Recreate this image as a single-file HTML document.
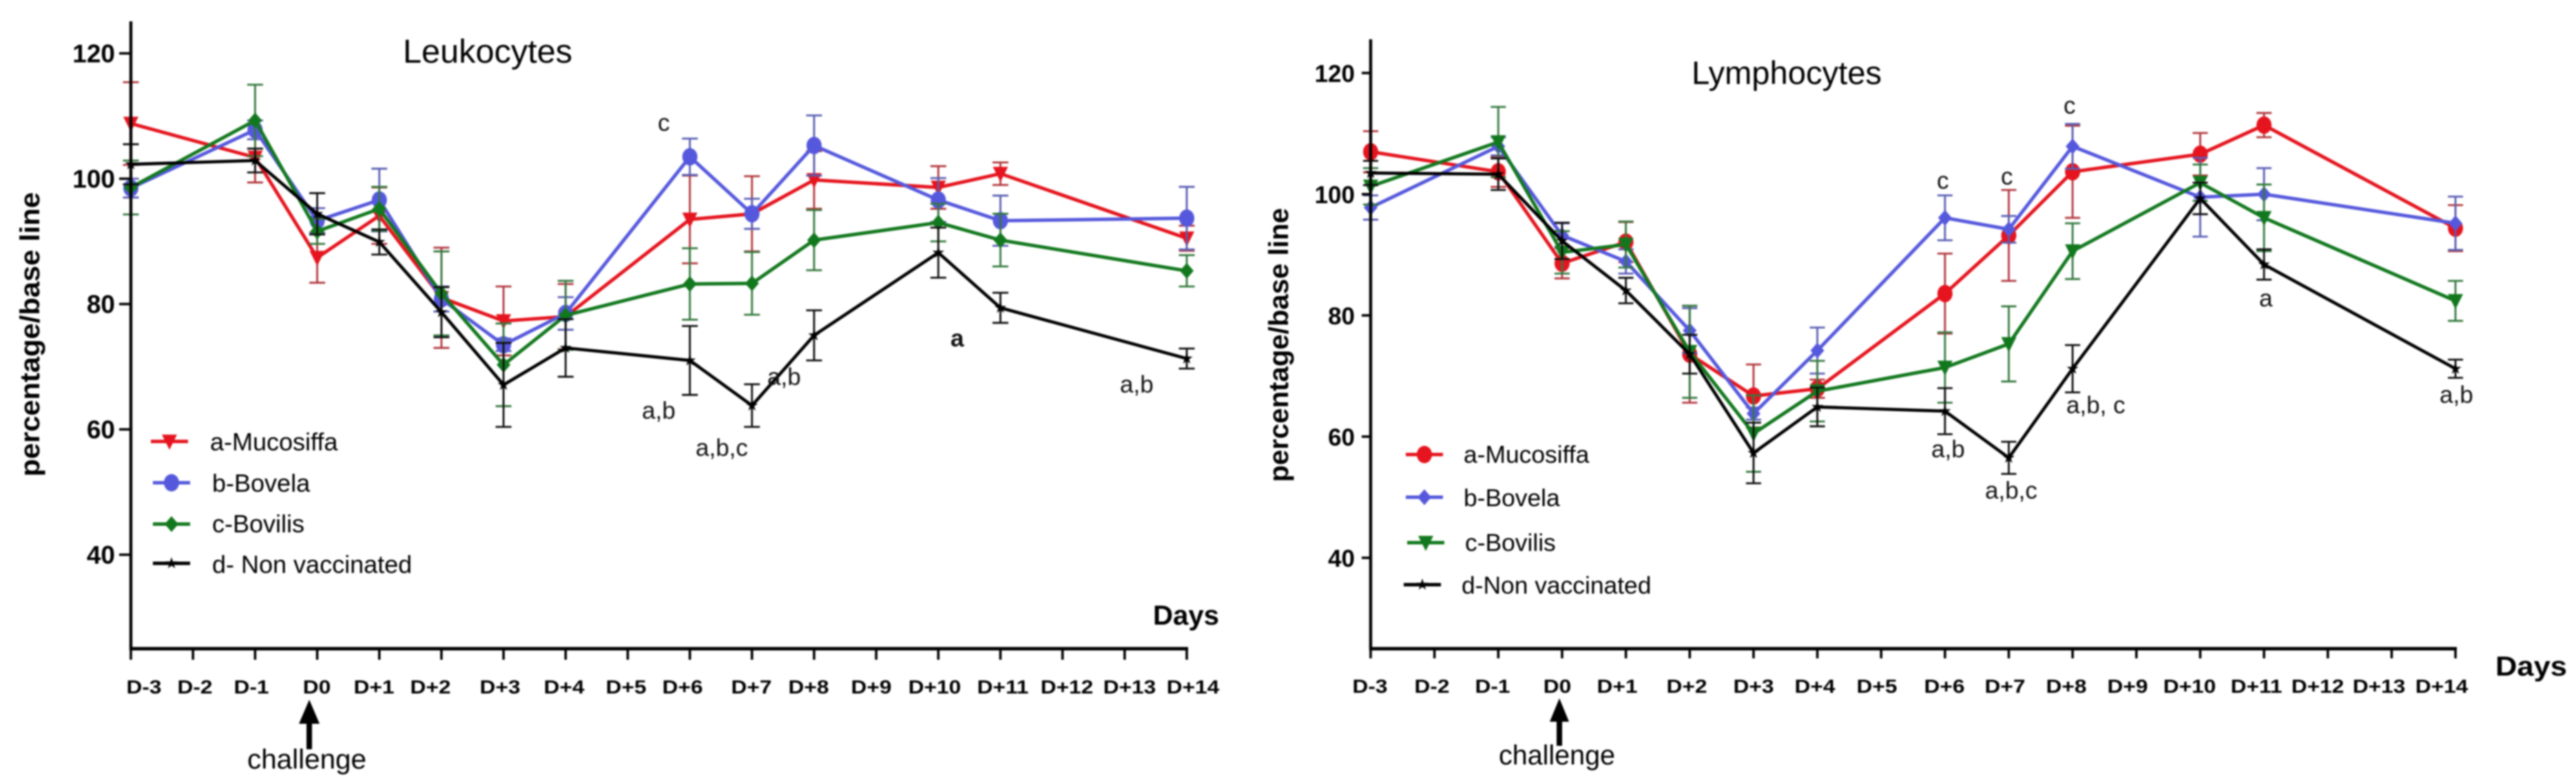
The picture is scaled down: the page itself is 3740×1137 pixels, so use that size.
<!DOCTYPE html>
<html lang="en">
<head>
<meta charset="utf-8">
<title>Leukocytes and Lymphocytes percentage of base line</title>
<style>
html,body{margin:0;padding:0;background:#fff;width:3740px;height:1137px;overflow:hidden}
svg{display:block;filter:blur(1px)}
text{font-family:"Liberation Sans",sans-serif;fill:#000}
.xt{font-size:28px;font-weight:bold;text-anchor:middle}
.yt{font-weight:bold;text-anchor:end}
.note{font-size:35px;fill:#111}
.leg{font-size:36px}
.ttl{font-size:48px}
.axt{font-size:40px;font-weight:bold}
.chal{font-size:40px}
</style>
</head>
<body>
<svg id="figure" xmlns="http://www.w3.org/2000/svg" width="3740" height="1137" viewBox="0 0 3740 1137">
  <rect x="0" y="0" width="3740" height="1137" fill="#fff"/>

  <g id="leuk-chart"></g>
  <g id="lymph-chart"></g>

  <!-- Left chart text -->
  <text class="ttl" x="585" y="91" textLength="246" lengthAdjust="spacingAndGlyphs">Leukocytes</text>
  <text class="axt" transform="translate(57 692) rotate(-90)" textLength="413" lengthAdjust="spacingAndGlyphs">percentage/base line</text>
  <text class="axt" x="1674" y="907" textLength="96" lengthAdjust="spacingAndGlyphs">Days</text>

  <g>
    <text class="xt" transform="translate(209 1007) scale(1.13 1)">D-3</text>
    <text class="xt" transform="translate(283 1007) scale(1.13 1)">D-2</text>
    <text class="xt" transform="translate(365 1007) scale(1.13 1)">D-1</text>
    <text class="xt" transform="translate(460 1007) scale(1.13 1)">D0</text>
    <text class="xt" transform="translate(543 1007) scale(1.13 1)">D+1</text>
    <text class="xt" transform="translate(625 1007) scale(1.13 1)">D+2</text>
    <text class="xt" transform="translate(726 1007) scale(1.13 1)">D+3</text>
    <text class="xt" transform="translate(819 1007) scale(1.13 1)">D+4</text>
    <text class="xt" transform="translate(909 1007) scale(1.13 1)">D+5</text>
    <text class="xt" transform="translate(991 1007) scale(1.13 1)">D+6</text>
    <text class="xt" transform="translate(1091 1007) scale(1.13 1)">D+7</text>
    <text class="xt" transform="translate(1174 1007) scale(1.13 1)">D+8</text>
    <text class="xt" transform="translate(1265 1007) scale(1.13 1)">D+9</text>
    <text class="xt" transform="translate(1357 1007) scale(1.13 1)">D+10</text>
    <text class="xt" transform="translate(1456 1007) scale(1.13 1)">D+11</text>
    <text class="xt" transform="translate(1549 1007) scale(1.13 1)">D+12</text>
    <text class="xt" transform="translate(1640 1007) scale(1.13 1)">D+13</text>
    <text class="xt" transform="translate(1732 1007) scale(1.13 1)">D+14</text>
  </g>

  <g>
    <text class="note" x="955" y="190">c</text>
    <text class="note" x="932" y="608">a,b</text>
    <text class="note" x="1010" y="662">a,b,c</text>
    <text class="note" x="1114" y="559">a,b</text>
    <text class="note" x="1380" y="503" style="font-weight:bold">a</text>
    <text class="note" x="1626" y="570">a,b</text>
  </g>

  <g>
    <text class="leg" x="305" y="654">a-Mucosiffa</text>
    <text class="leg" x="308" y="714">b-Bovela</text>
    <text class="leg" x="308" y="773">c-Bovilis</text>
    <text class="leg" x="308" y="832">d- Non vaccinated</text>
  </g>

  <g>
    <rect x="445" y="1045" width="8" height="43" fill="#000"/>
    <polygon points="449,1016 464,1051 434,1051" fill="#000"/>
    <text class="chal" x="359" y="1116" textLength="173" lengthAdjust="spacingAndGlyphs">challenge</text>
  </g>

  <!-- Right chart text -->
  <text class="ttl" x="2456" y="122" textLength="276" lengthAdjust="spacingAndGlyphs" style="font-size:47px">Lymphocytes</text>
  <text class="axt" transform="translate(1870 700) rotate(-90)" textLength="398" lengthAdjust="spacingAndGlyphs">percentage/base line</text>
  <text class="axt" x="3623" y="981" textLength="104" lengthAdjust="spacingAndGlyphs">Days</text>

  <g>
    <text class="xt" transform="translate(1989 1006) scale(1.13 1)">D-3</text>
    <text class="xt" transform="translate(2079 1006) scale(1.13 1)">D-2</text>
    <text class="xt" transform="translate(2167 1006) scale(1.13 1)">D-1</text>
    <text class="xt" transform="translate(2261 1006) scale(1.13 1)">D0</text>
    <text class="xt" transform="translate(2348 1006) scale(1.13 1)">D+1</text>
    <text class="xt" transform="translate(2449 1006) scale(1.13 1)">D+2</text>
    <text class="xt" transform="translate(2546 1006) scale(1.13 1)">D+3</text>
    <text class="xt" transform="translate(2635 1006) scale(1.13 1)">D+4</text>
    <text class="xt" transform="translate(2725 1006) scale(1.13 1)">D+5</text>
    <text class="xt" transform="translate(2823 1006) scale(1.13 1)">D+6</text>
    <text class="xt" transform="translate(2911 1006) scale(1.13 1)">D+7</text>
    <text class="xt" transform="translate(3000 1006) scale(1.13 1)">D+8</text>
    <text class="xt" transform="translate(3089 1006) scale(1.13 1)">D+9</text>
    <text class="xt" transform="translate(3179 1006) scale(1.13 1)">D+10</text>
    <text class="xt" transform="translate(3276 1006) scale(1.13 1)">D+11</text>
    <text class="xt" transform="translate(3365 1006) scale(1.13 1)">D+12</text>
    <text class="xt" transform="translate(3454 1006) scale(1.13 1)">D+13</text>
    <text class="xt" transform="translate(3545 1006) scale(1.13 1)">D+14</text>
  </g>

  <g>
    <text class="note" x="2812" y="274">c</text>
    <text class="note" x="2905" y="268">c</text>
    <text class="note" x="2996" y="165">c</text>
    <text class="note" x="3280" y="445">a</text>
    <text class="note" x="3542" y="585">a,b</text>
    <text class="note" x="3000" y="600" xml:space="preserve">a,b, c</text>
    <text class="note" x="2804" y="664">a,b</text>
    <text class="note" x="2882" y="724">a,b,c</text>
  </g>

  <g>
    <text class="leg" x="2125" y="672" style="font-size:35.4px">a-Mucosiffa</text>
    <text class="leg" x="2125" y="735" style="font-size:35.4px">b-Bovela</text>
    <text class="leg" x="2127" y="800" style="font-size:35.4px">c-Bovilis</text>
    <text class="leg" x="2122" y="862" style="font-size:35.4px">d-Non vaccinated</text>
  </g>

  <g>
    <rect x="2260" y="1042" width="8" height="41" fill="#000"/>
    <polygon points="2264,1014 2278,1048 2250,1048" fill="#000"/>
    <text class="chal" x="2176" y="1110" textLength="169" lengthAdjust="spacingAndGlyphs">challenge</text>
  </g>
</svg>

<script>
// ---- Chart data ----
const categories = ['D-3','D-2','D-1','D0','D+1','D+2','D+3','D+4','D+5','D+6','D+7','D+8','D+9','D+10','D+11','D+12','D+13','D+14'];
const sampledDays = ['D-3','D-1','D0','D+1','D+2','D+3','D+4','D+6','D+7','D+8','D+10','D+11','D+14'];
const yTickLabels = [40, 60, 80, 100, 120];

const leukMucosiffa = [108.8,103.4,87.4,94.1,81.0,77.3,78.0,93.5,94.4,99.8,98.6,100.8,90.5];
const leukMucosiffaErr = [6.6,4,4,4.5,8,5.5,5.2,7,6,4.6,3.4,1.8,2];
const leukBovela = [98.5,107.8,93.3,96.6,80.8,73.5,78.5,103.5,94.4,105.3,96.6,93.3,93.7];
const leukBovelaErr = [1.5,1.5,2,5,2,1,2.6,2.9,2.4,4.8,3.5,4,5];
const leukBovilis = [98.6,109.3,91.6,95.2,81.7,70.3,78.2,83.2,83.3,90.2,93,90.2,85.3];
const leukBovilisErr = [4.3,5.7,2,3.5,6.7,6.6,5.5,5.7,5,4.8,3,4.2,2.5];
const leukNonVaccinated = [102.3,102.9,94.4,89.9,78.7,67.1,73,71,63.8,75,88.2,79.4,71.3];
const leukNonVaccinatedErr = [3.2,1.9,3.3,2,4,6.7,4.6,5.5,3.4,4,4,2.4,1.6];

const lymphMucosiffa = [107,103.7,88.6,92.1,73.6,66.7,67.9,83.6,93.2,103.7,106.6,111.4,94.4];
const lymphMucosiffaErr = [3.4,2.5,2.5,3.3,8,5.2,1.5,6.6,7.5,7.6,3.5,2,3.8];
const lymphBovela = [97.8,107.9,93.2,88.9,77.5,63.8,74.2,96.1,94.2,107.9,99.5,100,95.2];
const lymphBovelaErr = [2,1.5,2,2,3.7,1,3.8,3.7,2.2,3.7,6.5,4.3,4.4];
const lymphBovilis = [101.3,108.6,90.4,91.7,74,60.5,67.5,71.4,75.3,90.6,101.9,96.1,82.4];
const lymphBovilisErr = [3,5.8,3.5,3.8,7.6,6.3,5,5.8,6.2,4.6,3,5.5,3.3];
const lymphNonVaccinated = [103.5,103.3,92.3,84.1,73.6,57.3,64.9,64.2,56.5,71.2,99.3,88.4,71.2];
const lymphNonVaccinatedErr = [2,2.6,3,2.1,3.2,5,3.2,3.8,2.65,3.9,2.6,2.5,1.5];

// ---- Drawing ----
const SVG_NS = 'http://www.w3.org/2000/svg';
const RED = '#e5141e', BLUE = '#5558dc', GREEN = '#12781e', BLACK = '#000';
const ERR = {};
ERR[RED] = '#b2383e';
ERR[BLUE] = '#5a5fb4';
ERR[GREEN] = '#35793f';
ERR[BLACK] = '#111';

function make(tag, attrs, parent) {
  const node = document.createElementNS(SVG_NS, tag);
  for (const k in attrs) node.setAttribute(k, attrs[k]);
  parent.appendChild(node);
  return node;
}

function markerNode(shape, cx, cy, r, color, parent) {
  if (shape === 'circle') {
    return make('ellipse', {cx: cx, cy: cy, rx: r, ry: r * 1.15, fill: color}, parent);
  }
  let pts = [];
  if (shape === 'down') {
    pts = [[cx - r, cy - r * 0.9], [cx + r, cy - r * 0.9], [cx, cy + r * 1.1]];
  } else if (shape === 'diamond') {
    pts = [[cx, cy - r * 1.15], [cx + r, cy], [cx, cy + r * 1.15], [cx - r, cy]];
  } else {
    for (let k = 0; k < 10; k++) {
      const rad = k % 2 === 0 ? r : r * 0.38;
      const ang = -Math.PI / 2 + k * Math.PI / 5;
      pts.push([cx + rad * Math.cos(ang), cy + rad * Math.sin(ang)]);
    }
  }
  return make('polygon', {points: pts.map(p => p[0].toFixed(1) + ',' + p[1].toFixed(1)).join(' '), fill: color}, parent);
}

function drawChart(cfg) {
  const root = document.getElementById(cfg.id);
  const xScale = function (cat) {
    return cfg.x0 + categories.indexOf(cat) * (cfg.x1 - cfg.x0) / (categories.length - 1);
  };
  const yScale = function (v) {
    return cfg.base - (v - 25) * cfg.pxPerUnit;
  };

  // series
  cfg.series.forEach(function (s) {
    const group = make('g', {}, root);
    
    
    const errColor = ERR[s.color];
    sampledDays.forEach(function (day, i) {
      const x = xScale(day);
      const hi = yScale(s.values[i] + s.errors[i]);
      const lo = yScale(s.values[i] - s.errors[i]);
      const bar = make('path', {
        d: 'M' + x + ' ' + hi + 'V' + lo +
           'M' + (x - cfg.cap) + ' ' + hi + 'H' + (x + cfg.cap) +
           'M' + (x - cfg.cap) + ' ' + lo + 'H' + (x + cfg.cap),
        stroke: errColor, 'stroke-width': 2.8, fill: 'none'
      }, group);
      
      
    });
    const points = sampledDays.map(function (day, i) {
      return xScale(day).toFixed(1) + ',' + yScale(s.values[i]).toFixed(1);
    }).join(' ');
    const line = make('polyline', {
      points: points, fill: 'none', stroke: s.color,
      'stroke-width': s.color === BLACK ? 4.6 : 5, 'stroke-linejoin': 'miter'
    }, group);
    
    
    sampledDays.forEach(function (day, i) {
      const mark = markerNode(s.shape, xScale(day), yScale(s.values[i]), s.r, s.color, group);
      
      
    });
  });

  // axes
  const yAxis = make('line', {x1: cfg.x0, x2: cfg.x0, y1: cfg.top, y2: cfg.base + 2, stroke: '#000', 'stroke-width': 4.4}, root);
  
  
  const xAxis = make('line', {x1: cfg.x0 - 2, x2: cfg.x1 + 2, y1: cfg.base, y2: cfg.base, stroke: '#000', 'stroke-width': 5}, root);
  
  

  categories.forEach(function (cat) {
    const tick = make('line', {x1: xScale(cat), x2: xScale(cat), y1: cfg.base, y2: cfg.base + cfg.xTick, stroke: '#000', 'stroke-width': 3.6}, root);
    
    
  });

  yTickLabels.forEach(function (v) {
    const tick = make('line', {x1: cfg.x0 - cfg.yTick, x2: cfg.x0, y1: yScale(v), y2: yScale(v), stroke: '#000', 'stroke-width': 3.6}, root);
    
    
    const label = make('text', {x: cfg.x0 - cfg.yTick - cfg.yGap, y: yScale(v) + 13, 'class': 'yt', 'font-size': cfg.yFont}, root);
    label.textContent = String(v);
    
    
  });

  // legend swatches
  cfg.series.forEach(function (s) {
    const sw = s.swatch;
    const swatch = make('g', {}, root);
    
    
    make('line', {x1: sw.x - 27, x2: sw.x + 27, y1: sw.y, y2: sw.y, stroke: s.color, 'stroke-width': 5}, swatch);
    markerNode(s.shape, sw.x, sw.y, s.r, s.color, swatch);
  });
}

drawChart({
  id: 'leuk-chart', x0: 190, x1: 1723, base: 942, top: 31, pxPerUnit: 9.1,
  cap: 11.5, xTick: 16, yTick: 17, yGap: 6, yFont: 37,
  series: [
    {name: 'mucosiffa', values: leukMucosiffa, errors: leukMucosiffaErr, color: RED, shape: 'down', r: 11, swatch: {x: 246, y: 641}},
    {name: 'bovela', values: leukBovela, errors: leukBovelaErr, color: BLUE, shape: 'circle', r: 11, swatch: {x: 249, y: 701}},
    {name: 'bovilis', values: leukBovilis, errors: leukBovilisErr, color: GREEN, shape: 'diamond', r: 10, swatch: {x: 249, y: 761}},
    {name: 'non-vaccinated', values: leukNonVaccinated, errors: leukNonVaccinatedErr, color: BLACK, shape: 'star', r: 9, swatch: {x: 249, y: 818}}
  ]
});

drawChart({
  id: 'lymph-chart', x0: 1990, x1: 3565, base: 942, top: 57, pxPerUnit: 8.8,
  cap: 11, xTick: 14, yTick: 13, yGap: 10, yFont: 35,
  series: [
    {name: 'mucosiffa', values: lymphMucosiffa, errors: lymphMucosiffaErr, color: RED, shape: 'circle', r: 11, swatch: {x: 2068, y: 660}},
    {name: 'bovela', values: lymphBovela, errors: lymphBovelaErr, color: BLUE, shape: 'diamond', r: 10, swatch: {x: 2068, y: 722}},
    {name: 'bovilis', values: lymphBovilis, errors: lymphBovilisErr, color: GREEN, shape: 'down', r: 11, swatch: {x: 2070, y: 788}},
    {name: 'non-vaccinated', values: lymphNonVaccinated, errors: lymphNonVaccinatedErr, color: BLACK, shape: 'star', r: 9, swatch: {x: 2065, y: 849}}
  ]
});
</script>
</body>
</html>
